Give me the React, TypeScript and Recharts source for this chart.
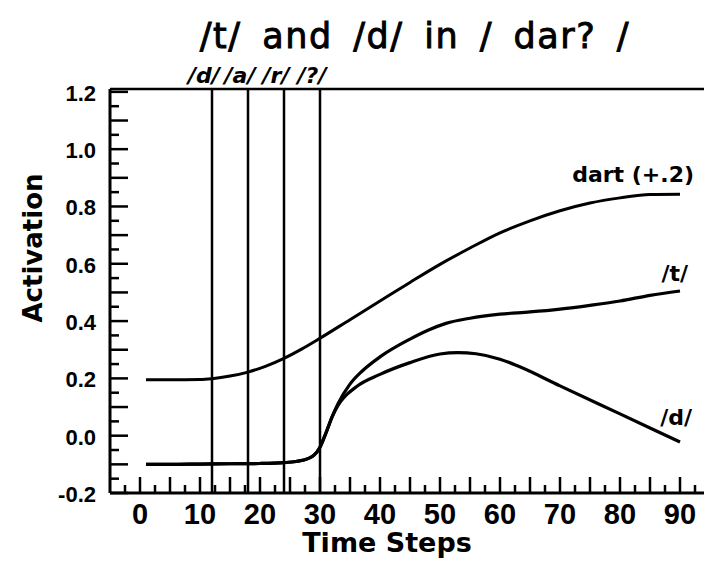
import React from 'react';
import { LineChart, Line, XAxis, YAxis, ReferenceLine, LabelList } from 'recharts';

const dartTimes = [1, 5, 10, 12, 15, 18, 21, 24, 27, 30, 35, 40, 45, 50, 55, 60, 65, 70, 75, 80, 85, 90];
const dartPlus02 = [0.195, 0.195, 0.196, 0.199, 0.208, 0.222, 0.243, 0.27, 0.303, 0.34, 0.405, 0.47, 0.535, 0.598, 0.655, 0.708, 0.75, 0.785, 0.812, 0.83, 0.842, 0.843];
const tTimes = [1, 5, 10, 15, 20, 24, 26, 28, 29, 30, 31, 32, 33, 35, 37, 40, 45, 48, 51, 55, 60, 65, 70, 75, 80, 85, 90];
const tValues = [-0.1, -0.1, -0.099, -0.098, -0.097, -0.094, -0.09, -0.08, -0.068, -0.04, 0.01, 0.065, 0.112, 0.18, 0.225, 0.275, 0.337, 0.368, 0.392, 0.41, 0.424, 0.432, 0.442, 0.455, 0.47, 0.49, 0.505];
const dTimes = [1, 5, 10, 15, 20, 24, 26, 28, 29, 30, 31, 32, 33, 36, 40, 45, 50, 53, 56, 60, 63, 70, 80, 85, 90];
const dValues = [-0.1, -0.1, -0.099, -0.098, -0.097, -0.094, -0.09, -0.08, -0.068, -0.04, 0.01, 0.065, 0.106, 0.17, 0.214, 0.255, 0.285, 0.29, 0.286, 0.267, 0.243, 0.174, 0.076, 0.027, -0.022];

const phonemes = ['/d/', '/a/', '/r/', '/?/'];
const phonemeBoundaries = [12, 18, 24, 30];

const xTicks = [-2.5, 0, 2.5, 5, 7.5, 10, 12.5, 15, 17.5, 20, 22.5, 25, 27.5, 30, 32.5, 35, 37.5, 40, 42.5, 45, 47.5, 50, 52.5, 55, 57.5, 60, 62.5, 65, 67.5, 70, 72.5, 75, 77.5, 80, 82.5, 85, 87.5, 90, 92.5];
const xTickLabels = [0, 10, 20, 30, 40, 50, 60, 70, 80, 90];
const yTicks = [-0.2, -0.15, -0.1, -0.05, 0, 0.05, 0.1, 0.15, 0.2, 0.25, 0.3, 0.35, 0.4, 0.45, 0.5, 0.55, 0.6, 0.65, 0.7, 0.75, 0.8, 0.85, 0.9, 0.95, 1.0, 1.05, 1.1, 1.15, 1.2];
const yTickLabels = [-0.2, 0, 0.2, 0.4, 0.6, 0.8, 1.0, 1.2];

const X_DOMAIN: [number, number] = [-5, 94];
const Y_DOMAIN: [number, number] = [-0.2, 1.21];

const dartData = dartTimes.map((t, i) => ({ t, v: dartPlus02[i] }));
const tData = tTimes.map((t, i) => ({ t, v: tValues[i] }));
const dData = dTimes.map((t, i) => ({ t, v: dValues[i] }));

const near = (a: number, b: number) => Math.abs(a - b) < 1e-6;
const isMult = (v: number, m: number) => near(v / m, Math.round(v / m));

const XTick = (props: any) => {
  const { x, y, payload } = props;
  const v = payload.value;
  const tall = isMult(v, 5);
  const label = xTickLabels.some((l) => near(l, v));
  return (
    <g>
      <line x1={x} x2={x} y1={y} y2={y - (tall ? 16 : 8)} stroke="#000" strokeWidth={2.5} />
      {label && (
        <text x={x} y={y + 31} textAnchor="middle" fontFamily="Liberation Sans, Arial, sans-serif" fontWeight="bold" fontSize={29} fill="#000">
          {v}
        </text>
      )}
    </g>
  );
};

const YTick = (props: any) => {
  const { x, y, payload } = props;
  const v = payload.value;
  const long = isMult(v, 0.1);
  const label = yTickLabels.some((l) => near(l, v));
  return (
    <g>
      <line x1={x} x2={x + (long ? 18 : 9)} y1={y} y2={y} stroke="#000" strokeWidth={2.5} />
      {label && (
        <text x={x - 14} y={y + 9} textAnchor="end" fontFamily="Liberation Sans, Arial, sans-serif" fontWeight="bold" fontSize={22} fill="#000">
          {v.toFixed(1)}
        </text>
      )}
    </g>
  );
};

const endLabel = (text: string, n: number, dx: number, dy: number) => (props: any) => {
  const { x, y, index } = props;
  if (index !== n - 1) return null;
  return (
    <text x={x + dx} y={y + dy} textAnchor="end" fontFamily="DejaVu Sans, sans-serif" fontWeight="bold" fontSize={22} fill="#000">
      {text}
    </text>
  );
};

const phonemeLabel = (text: string) => (props: any) => {
  const { viewBox } = props;
  const x = viewBox.x;
  const y = viewBox.y;
  return (
    <text x={x - 8} y={y - 6} textAnchor="middle" fontFamily="DejaVu Sans, sans-serif" fontWeight="bold" fontStyle="italic" fontSize={22} fill="#000">
      {text}
    </text>
  );
};

export default function App() {
  return (
    <div style={{ position: 'relative', width: 705, height: 564, background: '#fff' }}>
      <style>{`body{margin:0;background:#fff}`}</style>
      <LineChart width={705} height={564} margin={{ top: 89, right: 1, bottom: 11, left: 50 }}>
        <XAxis
          dataKey="t"
          type="number"
          domain={X_DOMAIN}
          ticks={xTicks}
          interval={0}
          height={60}
          tickSize={0}
          tickMargin={0}
          tickLine={false}
          tick={XTick}
          axisLine={{ stroke: '#000', strokeWidth: 3 }}
          allowDataOverflow
        />
        <YAxis
          type="number"
          domain={Y_DOMAIN}
          ticks={yTicks}
          interval={0}
          width={60}
          tickSize={0}
          tickMargin={0}
          tickLine={false}
          tick={YTick}
          axisLine={{ stroke: '#000', strokeWidth: 3 }}
          allowDataOverflow
        />
        <ReferenceLine y={Y_DOMAIN[1]} stroke="#000" strokeWidth={2.5} ifOverflow="visible" />
        {phonemeBoundaries.map((b, i) => (
          <ReferenceLine key={b} x={b} stroke="#000" strokeWidth={2.5} label={phonemeLabel(phonemes[i])} />
        ))}
        <Line data={dartData} type="monotone" dataKey="v" stroke="#000" strokeWidth={3} dot={false} isAnimationActive={false}>
          <LabelList dataKey="v" content={endLabel('dart (+.2)', dartData.length, 14, -12)} />
        </Line>
        <Line data={tData} type="monotone" dataKey="v" stroke="#000" strokeWidth={3.2} dot={false} isAnimationActive={false}>
          <LabelList dataKey="v" content={endLabel('/t/', tData.length, 8, -10)} />
        </Line>
        <Line data={dData} type="monotone" dataKey="v" stroke="#000" strokeWidth={3.2} dot={false} isAnimationActive={false}>
          <LabelList dataKey="v" content={endLabel('/d/', dData.length, 12, -17)} />
        </Line>
      </LineChart>
      <svg width={705} height={564} style={{ position: 'absolute', left: 0, top: 0, pointerEvents: 'none' }}>
        <text x={415} y={48} textAnchor="middle" fontFamily="DejaVu Sans, sans-serif" fontSize={35} letterSpacing={1.5} wordSpacing={8} fill="#000" stroke="#000" strokeWidth={0.9}>
          /t/ and /d/ in / dar? /
        </text>
        <text x={42} y={248} transform="rotate(-90 42 248)" textAnchor="middle" fontFamily="DejaVu Sans, sans-serif" fontWeight="bold" fontSize={26} fill="#000">
          Activation
        </text>
        <text x={387} y={552} textAnchor="middle" fontFamily="DejaVu Sans, sans-serif" fontWeight="bold" fontSize={27} fill="#000">
          Time Steps
        </text>
      </svg>
    </div>
  );
}
